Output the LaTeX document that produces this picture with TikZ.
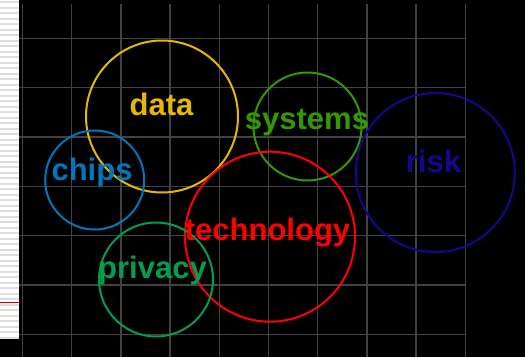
\documentclass[tikz,border=0pt]{standalone}
\usepackage{fontspec}
\setmainfont{Liberation Sans}
\definecolor{cdata}{RGB}{230,185,0}
\definecolor{csys}{RGB}{51,153,0}
\definecolor{cchips}{RGB}{0,119,187}
\definecolor{crisk}{RGB}{22,6,140}
\definecolor{ctech}{RGB}{255,0,0}
\definecolor{cpriv}{RGB}{0,158,80}
\definecolor{cgrid}{RGB}{66,66,66}
\definecolor{cstripe}{RGB}{222,222,222}
\begin{document}
\begin{tikzpicture}[x=1pt,y=-1pt,
  ring/.style={circle,draw,line width=2pt,inner sep=0pt},
  word/.style={anchor=base,inner sep=0pt,font=\fontsize{31}{31}\selectfont\bfseries},
  gridline/.style={draw=cgrid,line width=1.4pt}]
\useasboundingbox (0,0) rectangle (525,357);
\fill[black] (0,0) rectangle (525,357);
% left strip
\fill[white] (0,0) rectangle (19,339);
\foreach \k in {0,...,61} {
  \fill[cstripe] (0,{1+5.5*\k}) rectangle (19,{3+5.5*\k});
}
\draw[red!80!black,line width=1pt] (0,302) -- (19,302);
% grid
\foreach \k in {0,...,9} {
  \draw[gridline] ({22.5+49.2*\k},4) -- ({22.5+49.2*\k},357);
}
\foreach \k in {0,...,6} {
  \draw[gridline] (19,{38.3+49.33*\k}) -- (466,{38.3+49.33*\k});
}
% circles
\node[ring,draw=cdata,minimum size=152pt] (dataC) at (162,116.5) {};
\node[ring,draw=csys,minimum size=108pt] (sysC) at (307.5,126.5) {};
\node[ring,draw=cchips,minimum size=99pt] (chipsC) at (94.7,180) {};
\node[ring,draw=crisk,minimum size=159pt] (riskC) at (435.3,172.5) {};
\node[ring,draw=ctech,minimum size=170pt] (techC) at (270,236.7) {};
\node[ring,draw=cpriv,minimum size=114pt] (privC) at (156,279.5) {};
% labels
\node[word,text=cdata] (dataT) at (161.5,115) {data};
\node[word,text=csys] (sysT) at (307,129.5) {systems};
\node[word,text=cchips] (chipsT) at (92,180) {chips};
\node[word,text=crisk] (riskT) at (433.5,172) {risk};
\node[word,text=ctech] (techT) at (267.5,240) {technology};
\node[word,text=cpriv] (privT) at (152.5,278) {privacy};
\end{tikzpicture}
\end{document}
